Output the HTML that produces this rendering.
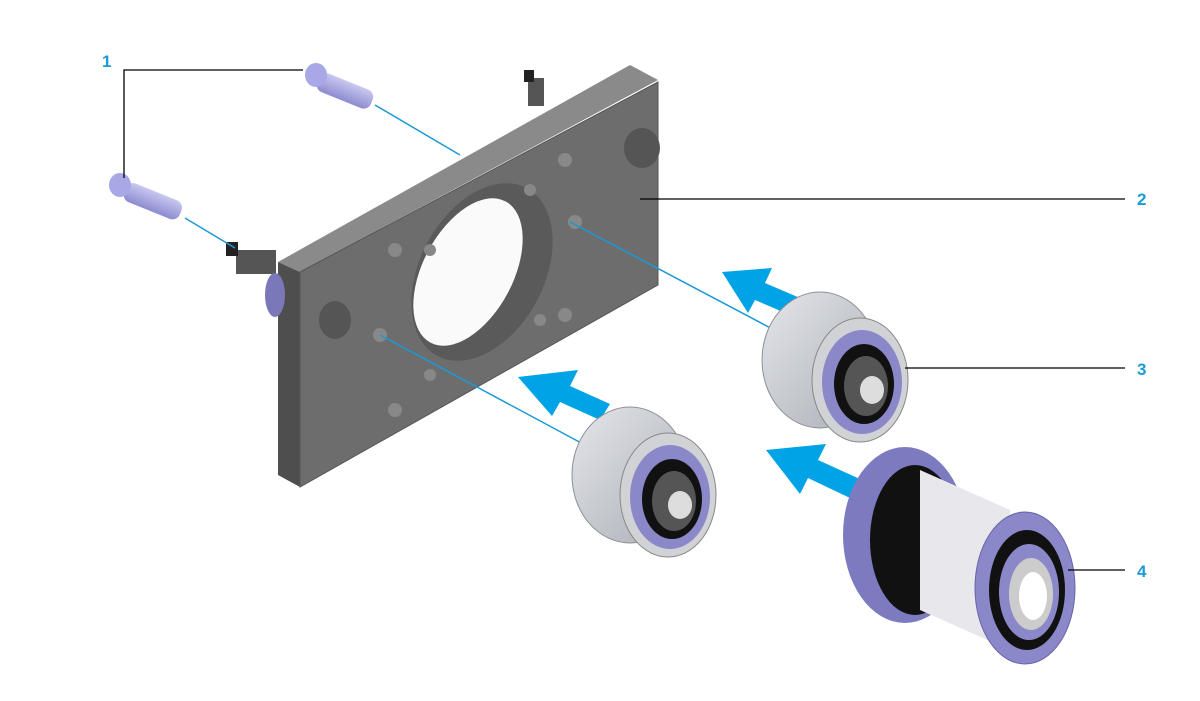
<!DOCTYPE html>
<html><head><meta charset="utf-8"><style>
html,body{margin:0;padding:0;background:#fff;}
svg{display:block;}
text{font-family:"Liberation Sans",sans-serif;font-size:17px;fill:#1a9ad6;font-weight:bold;}
</style></head><body>
<svg width="1200" height="701" viewBox="0 0 1200 701" xmlns="http://www.w3.org/2000/svg">
<defs>
<linearGradient id="pul" x1="0" y1="0" x2="1" y2="1"><stop offset="0" stop-color="#e4e6ea"/><stop offset="1" stop-color="#a9adb4"/></linearGradient>
<linearGradient id="bolt" x1="0" y1="0" x2="0" y2="1"><stop offset="0" stop-color="#c8c8f0"/><stop offset="1" stop-color="#8c8cd0"/></linearGradient>
</defs>
<!-- plate -->
<polygon points="278,262 630,65 658,80 300,272" fill="#8a8a8a"/>
<polygon points="278,262 300,272 300,487 278,475" fill="#4e4e4e"/>
<polygon points="300,272 658,82 658,285 300,487" fill="#6d6d6d" stroke="#555" stroke-width="1"/>
<!-- big hole -->
<ellipse cx="482" cy="272" rx="62" ry="95" transform="rotate(28 482 272)" fill="#5a5a5a"/>
<ellipse cx="468" cy="272" rx="45" ry="80" transform="rotate(28 468 272)" fill="#fafafa"/>
<!-- small holes -->
<g fill="#888">
<circle cx="395" cy="250" r="7"/><circle cx="430" cy="250" r="6"/><circle cx="565" cy="160" r="7"/>
<circle cx="530" cy="190" r="6"/><circle cx="395" cy="410" r="7"/><circle cx="430" cy="375" r="6"/>
<circle cx="565" cy="315" r="7"/><circle cx="540" cy="320" r="6"/><circle cx="380" cy="335" r="7"/><circle cx="575" cy="222" r="7"/>
</g>
<!-- bosses -->
<ellipse cx="335" cy="320" rx="16" ry="19" fill="#555"/>
<ellipse cx="642" cy="148" rx="18" ry="20" fill="#555"/>
<rect x="528" y="78" width="16" height="28" fill="#555"/><rect x="524" y="70" width="10" height="12" fill="#222"/>
<rect x="236" y="250" width="40" height="24" fill="#555"/><rect x="226" y="242" width="12" height="14" fill="#222"/>
<ellipse cx="275" cy="295" rx="10" ry="22" fill="#7a78b8"/>
<!-- bolts -->
<g>
<rect x="318" y="70" width="58" height="20" rx="8" fill="url(#bolt)" transform="rotate(22 318 80)"/>
<ellipse cx="316" cy="75" rx="11" ry="12" fill="#a8a8e6"/>
<rect x="125" y="180" width="60" height="20" rx="8" fill="url(#bolt)" transform="rotate(22 125 190)"/>
<ellipse cx="120" cy="185" rx="11" ry="12" fill="#a8a8e6"/>
</g>
<!-- blue axis lines -->
<g stroke="#1a9ad6" stroke-width="1.5">
<line x1="375" y1="105" x2="460" y2="155"/>
<line x1="185" y1="218" x2="235" y2="248"/>
<line x1="570" y1="222" x2="780" y2="333"/>
<line x1="380" y1="335" x2="585" y2="445"/>
</g>
<!-- arrows -->
<g fill="#00a3e6">
<polygon points="722,272 772,268 765,283 800,298 790,315 755,300 748,313"/>
<polygon points="518,377 578,370 570,386 610,404 600,420 560,402 552,416"/>
<polygon points="766,450 826,444 818,460 862,480 850,498 808,478 800,494"/>
</g>
<!-- pulley 3 -->
<ellipse cx="820" cy="360" rx="58" ry="68" fill="url(#pul)" stroke="#8d9098"/>
<ellipse cx="860" cy="380" rx="48" ry="62" fill="#d0d2d6" stroke="#888"/>
<ellipse cx="862" cy="382" rx="40" ry="52" fill="#8a88c8"/>
<ellipse cx="864" cy="384" rx="30" ry="40" fill="#111"/>
<ellipse cx="866" cy="386" rx="22" ry="30" fill="#555"/>
<ellipse cx="872" cy="390" rx="12" ry="14" fill="#ddd"/>
<!-- pulley 2 (left) -->
<ellipse cx="630" cy="475" rx="58" ry="68" fill="url(#pul)" stroke="#8d9098"/>
<ellipse cx="668" cy="495" rx="48" ry="62" fill="#d0d2d6" stroke="#888"/>
<ellipse cx="670" cy="497" rx="40" ry="52" fill="#8a88c8"/>
<ellipse cx="672" cy="499" rx="30" ry="40" fill="#111"/>
<ellipse cx="674" cy="501" rx="22" ry="30" fill="#555"/>
<ellipse cx="680" cy="505" rx="12" ry="14" fill="#ddd"/>
<!-- part 4 -->
<ellipse cx="905" cy="535" rx="62" ry="88" fill="#7d7bc0"/>
<ellipse cx="915" cy="540" rx="45" ry="75" fill="#111"/>
<polygon points="920,470 1010,510 1010,650 920,610" fill="#e8e8ec"/>
<ellipse cx="1025" cy="588" rx="50" ry="76" fill="#8a88c8" stroke="#6664a8"/>
<ellipse cx="1027" cy="590" rx="38" ry="60" fill="#111"/>
<ellipse cx="1029" cy="592" rx="30" ry="48" fill="#8a88c8"/>
<ellipse cx="1031" cy="594" rx="22" ry="36" fill="#ccc"/>
<ellipse cx="1033" cy="596" rx="14" ry="24" fill="#fff"/>
<!-- leader lines -->
<g stroke="#000" stroke-width="1.3" fill="none">
<polyline points="303,70 124,70 124,178"/>
<line x1="640" y1="199" x2="1125" y2="199"/>
<line x1="905" y1="368" x2="1125" y2="368"/>
<line x1="1068" y1="570" x2="1125" y2="570"/>
</g>
<text x="102" y="67">1</text>
<text x="1137" y="205">2</text>
<text x="1137" y="375">3</text>
<text x="1137" y="577">4</text>
</svg>
</body></html>
